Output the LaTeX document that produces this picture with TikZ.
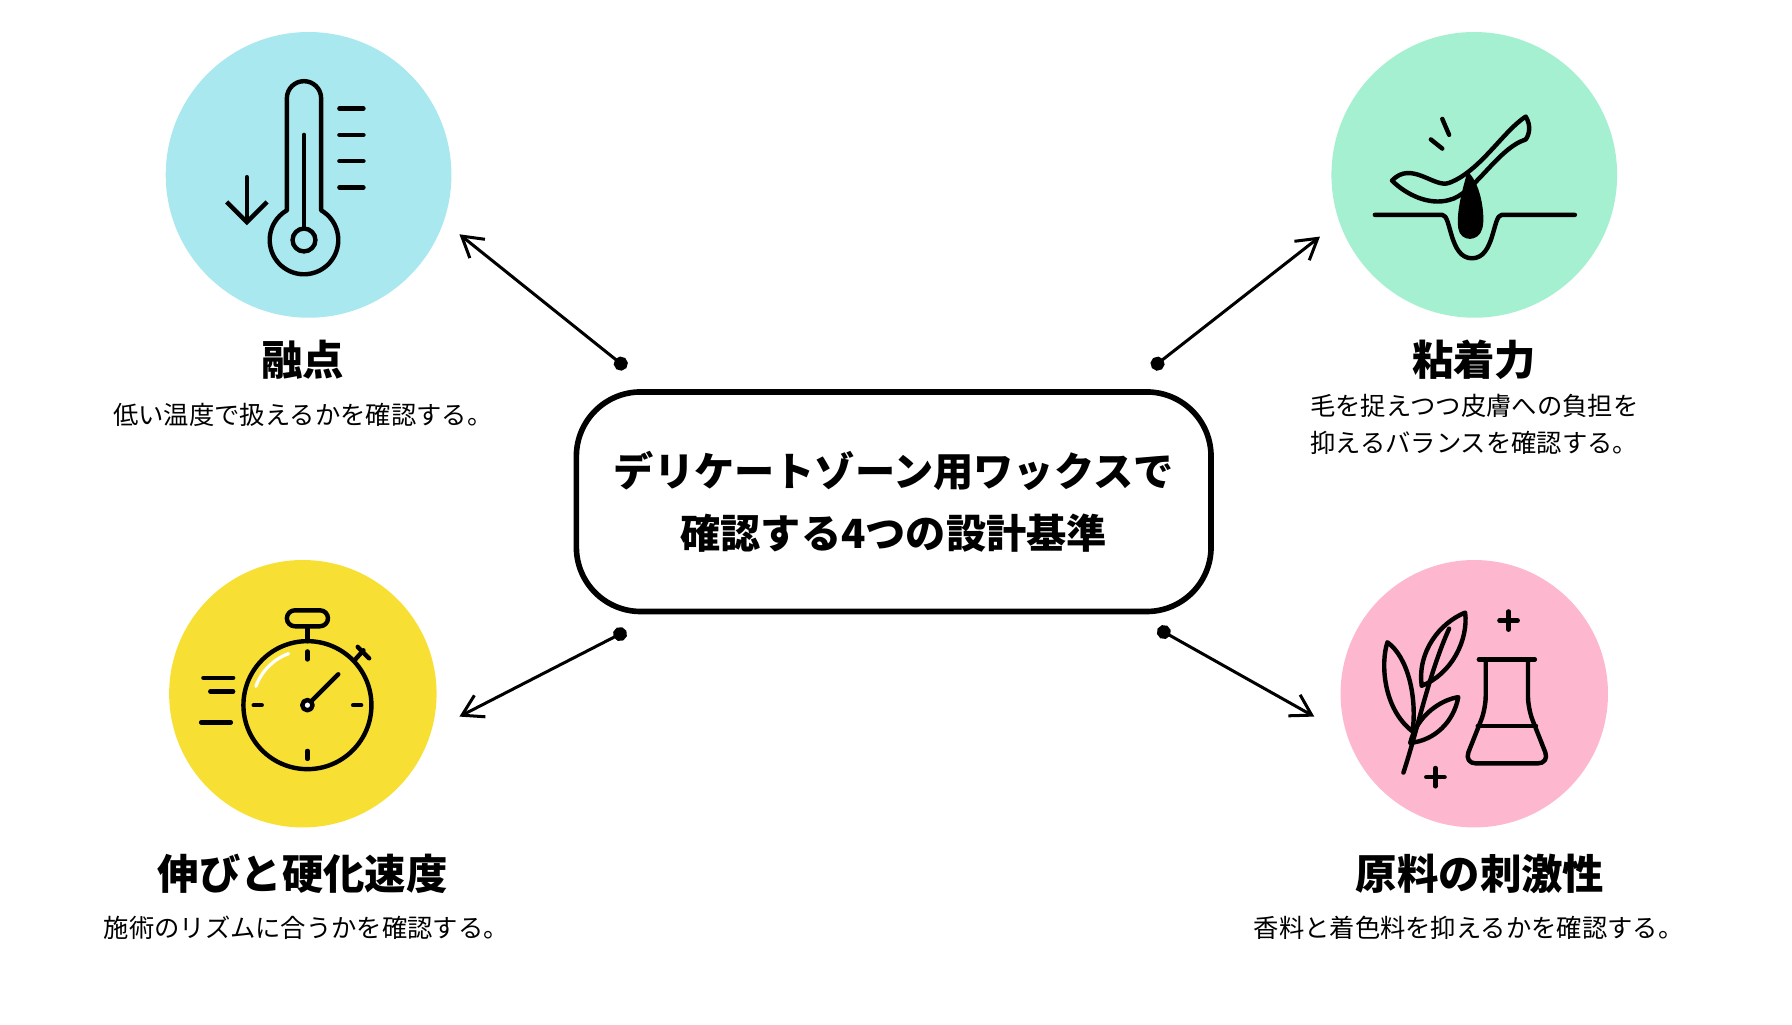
\documentclass[tikz,border=0pt]{standalone}
\usepackage{fontspec}
\setmainfont{Noto Sans CJK JP}
\usetikzlibrary{arrows.meta}
\definecolor{cyanbg}{HTML}{A8E8EE}
\definecolor{greenbg}{HTML}{A6F0D2}
\definecolor{yellowbg}{HTML}{F7E033}
\definecolor{pinkbg}{HTML}{FDB8CF}
\begin{document}
\begin{tikzpicture}[x=0.01cm,y=-0.01cm,line cap=round,line join=round,
title/.style={font=\fontsize{10.3}{12}\selectfont\bfseries},
desc/.style={font=\fontsize{6.3}{9.2}\selectfont,align=center},
icon/.style={line width=1.1pt},
link/.style={line width=0.75pt,{Circle[length=3.5pt]}-{Straight Barb[length=5pt,width=6pt]}}]
\useasboundingbox (0,0) rectangle (1568,896);

% circles
\fill[cyanbg] (270,153) circle (125);
\fill[greenbg] (1290,153) circle (125);
\fill[yellowbg] (265,607) circle (117);
\fill[pinkbg] (1290,607) circle (117);

% center box
\node[draw,line width=1.4pt,rounded corners=16pt,minimum width=5.55cm,minimum height=1.92cm,
  align=center,font=\fontsize{10}{15.5}\selectfont\bfseries] (main) at (782,439)
  {デリケートゾーン用ワックスで\\確認する4つの設計基準};

% labels
\node[title] (t1) at (265,315) {融点};
\node[desc] (d1) at (265,363) {低い温度で扱えるかを確認する。};
\node[title] (t2) at (1290,315) {粘着力};
\node[desc] (d2) at (1290,371) {毛を捉えつつ皮膚への負担を\\抑えるバランスを確認する。};
\node[title] (t3) at (265,765) {伸びと硬化速度};
\node[desc] (d3) at (268,812) {施術のリズムに合うかを確認する。};
\node[title] (t4) at (1295,765) {原料の刺激性};
\node[desc] (d4) at (1285,812) {香料と着色料を抑えるかを確認する。};

% connectors
\coordinate (s1) at (548,322); \coordinate (e1) at (402,205);
\coordinate (s2) at (1008,322); \coordinate (e2) at (1155,207);
\coordinate (s3) at (548,552); \coordinate (e3) at (402,627);
\coordinate (s4) at (1013,550); \coordinate (e4) at (1150,627);
\draw[link] (s1) -- (e1);
\draw[link] (s2) -- (e2);
\draw[link] (s3) -- (e3);
\draw[link] (s4) -- (e4);

% thermometer
\draw[icon] (251,184) -- (251,86) arc (180:360:15) -- (281,184)
  arc (-60:240:30);
\draw[icon] (266,210) circle (10);
\draw[icon] (266,118) -- (266,200);
\foreach \yy in {95,118,141,164} \draw[icon] (297,\yy) -- (318,\yy);
\draw[icon,-{Straight Barb[length=5pt]}] (216,155) -- (216,197);

% hair and wax strip
\draw[icon] (1203,188) -- (1262,188) .. controls (1270,188) and (1268,226) .. (1288,226)
  .. controls (1308,226) and (1306,188) .. (1314,188) -- (1378,188);
\fill (1284,150) .. controls (1296,160) and (1300,190) .. (1297,200)
  .. controls (1294,212) and (1278,212) .. (1276,200) .. controls (1274,185) and (1280,165) .. (1284,150);
\draw[icon] (1218,158) .. controls (1235,140) and (1255,165) .. (1268,160)
  .. controls (1295,150) and (1315,115) .. (1335,102) .. controls (1340,110) and (1338,118) .. (1335,122)
  .. controls (1310,130) and (1290,170) .. (1268,175) .. controls (1250,180) and (1230,170) .. (1218,158);
\draw[icon] (1262,104) -- (1268,118);
\draw[icon] (1252,122) -- (1262,130);

% stopwatch
\draw[icon] (269,617) circle (56);
\draw[icon,rounded corners=2pt] (251,534) rectangle (287,548);
\draw[icon] (269,548) -- (269,561);
\draw[icon] (310,578) -- (318,569);
\draw[icon] (313,566) -- (323,576);
\draw[icon] (269,617) -- (296,590);
\fill[white] (269,617) circle (4.5); \draw[icon] (269,617) circle (4.5);
\foreach \a in {0,90,180,270} \draw[icon] (269,617) ++(\a:40) -- ++(\a:7);
\draw[line width=0.8pt,white] (269,617) ++(200:48) arc (200:250:48);
\draw[icon] (178,593) -- (204,593);
\draw[icon] (184,605) -- (204,605);
\draw[icon] (176,632) -- (202,632);

% plant and flask
\draw[icon] (1228,676) .. controls (1240,640) and (1250,590) .. (1268,550);
\draw[icon] (1236,640) .. controls (1210,620) and (1208,580) .. (1214,562)
  .. controls (1232,575) and (1240,610) .. (1236,640);
\draw[icon] (1244,600) .. controls (1240,570) and (1260,545) .. (1282,536)
  .. controls (1285,560) and (1270,590) .. (1244,600);
\draw[icon] (1234,650) .. controls (1240,625) and (1262,612) .. (1276,610)
  .. controls (1272,632) and (1255,648) .. (1234,650);
\draw[icon,rounded corners=3pt] (1300,577) -- (1300,620) -- (1281,668) -- (1356,668)
  -- (1337,620) -- (1337,577);
\draw[icon] (1294,577) -- (1343,577);
\draw[icon] (1293,635) -- (1344,635);
\draw[icon] (1320,535) -- (1320,551); \draw[icon] (1312,543) -- (1328,543);
\draw[icon] (1256,672) -- (1256,688); \draw[icon] (1248,680) -- (1264,680);
\end{tikzpicture}
\end{document}
